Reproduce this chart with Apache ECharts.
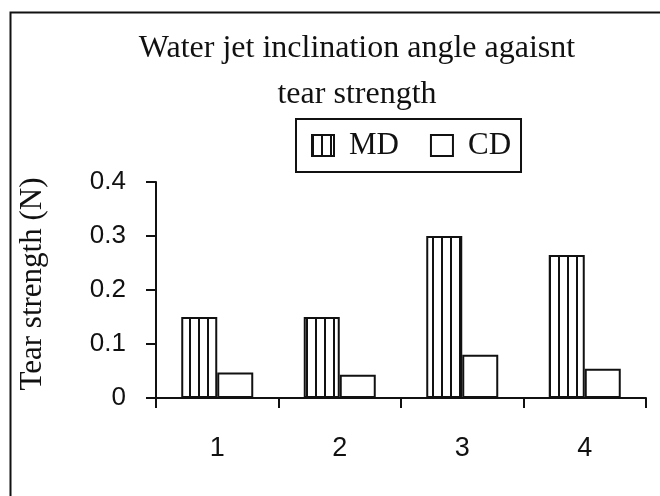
<!DOCTYPE html>
<html>
<head>
<meta charset="utf-8">
<script src="https://cdn.jsdelivr.net/npm/echarts@6/dist/echarts.min.js"></script>
<style>
html,body{margin:0;padding:0;background:#fff;}
#c{width:660px;height:496px;}
</style>
</head>
<body>
<div id="c"></div>
<script>
var categories = ['1', '2', '3', '4'];
var mdValues = [0.15, 0.15, 0.30, 0.265];
var cdValues = [0.047, 0.043, 0.08, 0.054];
var yTicks = [0, 0.1, 0.2, 0.3, 0.4];

var pc = document.createElement('canvas');
pc.width = 9; pc.height = 8;
var px = pc.getContext('2d');
px.fillStyle = '#fff'; px.fillRect(0, 0, 9, 8);
px.fillStyle = '#111'; px.fillRect(0, 0, 2, 8);

var serif = '"Liberation Serif", "DejaVu Serif", serif';
var sans = '"Liberation Sans", Arial, sans-serif';

var chart = echarts.init(document.getElementById('c'), null, {renderer: 'canvas'});
chart.setOption({
  animation: false,
  backgroundColor: '#fff',
  title: {
    text: 'Water jet inclination angle agaisnt\ntear strength',
    left: 352, top: 21, textAlign: 'center',
    textStyle: {fontFamily: serif, fontSize: 32, fontWeight: 'normal', color: '#111', lineHeight: 46}
  },
  legend: {
    left: 296, top: 119,
    orient: 'horizontal',
    borderColor: '#111', borderWidth: 2,
    padding: [11, 10, 11, 15],
    itemWidth: 22, itemHeight: 21, itemGap: 31,
    icon: 'rect',
    textStyle: {fontFamily: serif, fontSize: 31, color: '#111', padding: [0, 0, 0, 10], lineHeight: 30},
    data: ['MD', 'CD']
  },
  grid: {left: 156, top: 182, width: 490, height: 216, containLabel: false},
  xAxis: {
    type: 'category',
    data: categories,
    boundaryGap: true,
    axisLine: {lineStyle: {color: '#111', width: 2}},
    axisTick: {show: true, length: 10, inside: false, lineStyle: {color: '#111', width: 2}},
    axisLabel: {fontFamily: sans, fontSize: 27, color: '#111', margin: 37}
  },
  yAxis: {
    type: 'value',
    min: yTicks[0], max: yTicks[yTicks.length - 1], interval: 0.1,
    name: 'Tear strength (N)',
    nameLocation: 'middle', nameGap: 108, nameRotate: 90,
    nameTextStyle: {fontFamily: serif, fontSize: 31, color: '#111', padding: [0, 0, 0, 12]},
    axisLine: {show: true, lineStyle: {color: '#111', width: 2}},
    axisTick: {show: true, length: 10, lineStyle: {color: '#111', width: 2}},
    splitLine: {show: false},
    axisLabel: {fontFamily: sans, fontSize: 26, color: '#111', margin: 30,
      formatter: function (v) { return v === 0 ? '0' : v.toFixed(1); }}
  },
  series: [
    {
      name: 'MD', type: 'bar', data: mdValues,
      barWidth: 36, barGap: '0%',
      itemStyle: {color: {image: pc, repeat: 'repeat'}, borderColor: '#111', borderWidth: 2}
    },
    {
      name: 'CD', type: 'bar', data: cdValues,
      barWidth: 36,
      itemStyle: {color: '#fff', borderColor: '#111', borderWidth: 2}
    }
  ],
  graphic: [{
    type: 'rect', left: 8, top: 10, silent: true,
    shape: {width: 700, height: 600},
    style: {fill: 'none', stroke: '#111', lineWidth: 2}
  }]
});
</script>
</body>
</html>
